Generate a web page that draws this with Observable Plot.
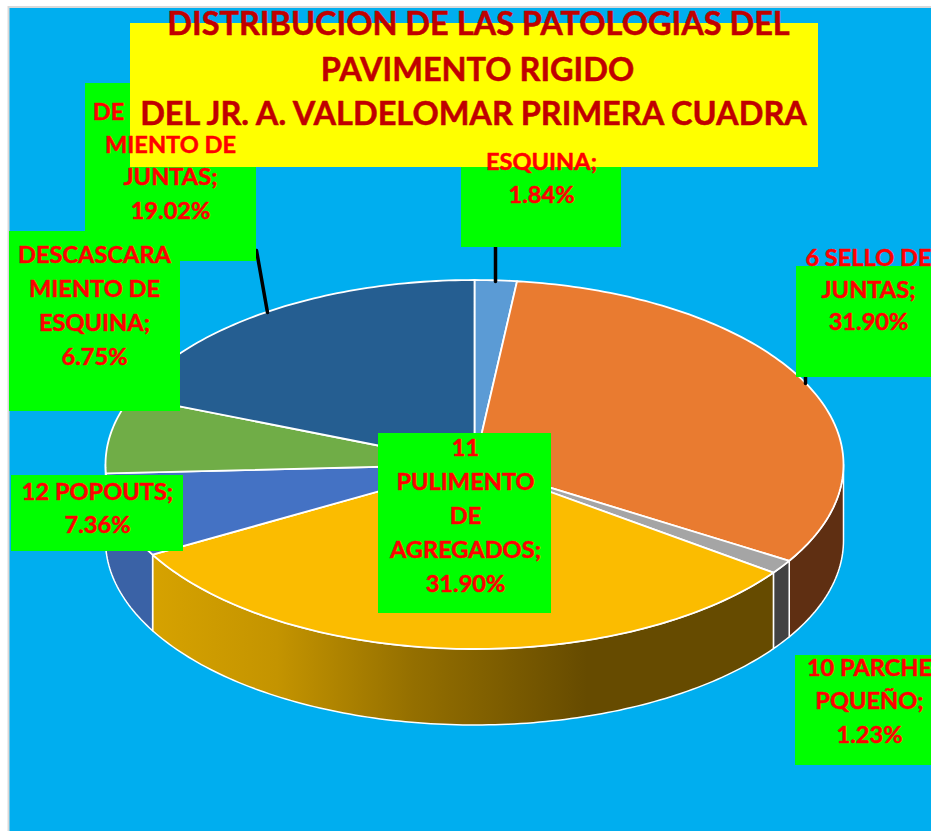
<!DOCTYPE html>
<html>
<head>
<meta charset="utf-8">
<script src="https://cdn.jsdelivr.net/npm/d3@7"></script>
<script src="https://cdn.jsdelivr.net/npm/@observablehq/plot@0.6"></script>
<style>
html,body{margin:0;padding:0;background:#fff;overflow:hidden}
svg{display:block}
</style>
</head>
<body>
<div id="chart"></div>
<script>
// ---- data (clockwise from twelve o'clock) ----
const sliceNames = ["ESQUINA", "6 SELLO DE JUNTAS", "10 PARCHE PEQUEÑO", "11 PULIMENTO DE AGREGADOS", "12 POPOUTS", "DESCASCARAMIENTO DE ESQUINA", "DESCASCARAMIENTO DE JUNTAS"];
const slicePercents = [1.84, 31.90, 1.23, 31.90, 7.36, 6.75, 19.02];
const titleLines = ["DISTRIBUCION DE LAS PATOLOGIAS DEL", "PAVIMENTO RIGIDO", "DEL JR. A. VALDELOMAR PRIMERA CUADRA"];
const labelWords = [
  ["ESQUINA;"],
  ["6 SELLO DE", "JUNTAS;"],
  ["10 PARCHE", "PQUEÑO;"],
  ["11", "PULIMENTO", "DE", "AGREGADOS;"],
  ["12 POPOUTS;"],
  ["DESCASCARA", "MIENTO DE", "ESQUINA;"],
  ["DE", "MIENTO DE", "JUNTAS;"]
];

// ---- styles ----
const topColors = ["#5B9BD5", "#E97B30", "#A5A5A5", "#FBBC00", "#4472C4", "#70AD47", "#255E91"];
const wallColors = ["#3E6D99", "#5F2F12", "#424242", "url(#yellowWall)", "#3A62A6", "#53803A", "#1A4568"];
const yellowWallStops = [[0, "#D6A200"], [0.2, "#C49400"], [0.42, "#946F00"], [0.7, "#664B00"], [1, "#664B00"]];

// ---- layout ----
const W = 931, H = 831;
const pie = {cx: 474, cy: 464, rx: 369, ry: 184.5, depth: 76};
const panel = {x1: 8.5, y1: 7, x2: W + 10, y2: H + 10};
const titleBox = {x1: 130, y1: 23, x2: 818, y2: 167};
const titleRows = [{x: 478, y: 24}, {x: 477, y: 70}, {x: 473, y: 114}];
const labelLayout = [
  {box: [461, 167, 621, 247], x: [541, 541], y: [162, 195]},
  {box: [796, 266, 940, 377], x: [868, 868, 868], y: [258, 290, 322]},
  {box: [795, 655, 940, 765], x: [869, 869, 869], y: [668, 701, 735]},
  {box: [378, 433, 551, 613], x: [465, 465, 465, 465, 465], y: [448, 482, 516, 550, 584]},
  {box: [11, 475, 183, 551], x: [97, 97], y: [492, 525]},
  {box: [9, 231, 180, 411], x: [94, 94, 94, 94], y: [255, 289, 323, 357]},
  {box: [85, 83, 256, 261], x: [108, 170, 170, 170], y: [112, 145, 177, 211]}
];
const leaders = [
  [{x: 495, y: 247}, {x: 495, y: 281}],
  [{x: 805, y: 377}, {x: 805, y: 383}],
  [{x: 256, y: 250}, {x: 267, y: 312}]
];

// ---- geometry from the values ----
const arcs = d3.pie().sort(null).value(d => d)(slicePercents);
const px = a => pie.cx + pie.rx * Math.sin(a);
const py = a => pie.cy - pie.ry * Math.cos(a);
const arcPoints = (a0, a1, dy = 0) => {
  const n = Math.max(2, Math.ceil((a1 - a0) / (Math.PI / 180)));
  return d3.range(n + 1).map(i => {
    const a = a0 + (a1 - a0) * i / n;
    return {x: px(a), y: py(a) + dy};
  });
};
const centre = {x: pie.cx, y: pie.cy};
const wedges = arcs.map(a => [centre, ...arcPoints(a.startAngle, a.endAngle), centre]);
const walls = arcs.map((a, i) => {
  const s = Math.max(a.startAngle, Math.PI / 2), e = Math.min(a.endAngle, 3 * Math.PI / 2);
  if (e <= s) return null;
  const top = arcPoints(s, e), bottom = arcPoints(s, e, pie.depth).reverse();
  return {i, pts: [...top, ...bottom, top[0]]};
}).filter(Boolean);

// ---- label rows, percentages read from the data ----
const labelRows = labelWords.flatMap((words, i) => {
  const lines = [...words, slicePercents[i].toFixed(2) + "%"];
  return lines.map((text, j) => ({text, x: labelLayout[i].x[j], y: labelLayout[i].y[j]}));
});
const boxes = labelLayout.map(l => ({x1: l.box[0], y1: l.box[1], x2: l.box[2], y2: l.box[3]}));
const titleData = titleLines.map((text, i) => ({text, ...titleRows[i]}));

const defs = () => {
  const d = d3.create("svg:defs");
  const g = d.append("linearGradient").attr("id", "yellowWall")
    .attr("gradientUnits", "userSpaceOnUse")
    .attr("x1", px(arcs[3].endAngle)).attr("x2", px(arcs[3].startAngle))
    .attr("y1", 0).attr("y2", 0);
  yellowWallStops.forEach(s => g.append("stop").attr("offset", s[0]).attr("stop-color", s[1]));
  return d.node();
};

const font = "Lato, Carlito, Calibri, sans-serif";

const chart = Plot.plot({
  width: W, height: H,
  margin: 0, marginTop: 0, marginRight: 0, marginBottom: 0, marginLeft: 0,
  x: {domain: [0, W], axis: null},
  y: {domain: [H, 0], axis: null},
  style: {background: "#fff", fontFamily: font},
  marks: [
    defs,
    Plot.rect([panel], {x1: "x1", y1: "y1", x2: "x2", y2: "y2", fill: "#00AEEF", stroke: "#D9D9D9", strokeWidth: 2}),
    ...walls.map(w => Plot.line(w.pts, {x: "x", y: "y", fill: wallColors[w.i], stroke: "#fff", strokeWidth: 1.5})),
    ...wedges.map((pts, i) => Plot.line(pts, {x: "x", y: "y", fill: topColors[i], stroke: "#fff", strokeWidth: 1.8, strokeLinejoin: "round"})),
    ...leaders.map(l => Plot.line(l, {x: "x", y: "y", stroke: "#000", strokeWidth: 3.5})),
    Plot.rect(boxes, {x1: "x1", y1: "y1", x2: "x2", y2: "y2", fill: "#00FF00"}),
    Plot.rect([titleBox], {x1: "x1", y1: "y1", x2: "x2", y2: "y2", fill: "#FFFF00"}),
    Plot.text(titleData, {x: "x", y: "y", text: "text", fill: "#C00000", stroke: "#C00000", strokeWidth: 0.5, fontSize: 32.5, fontWeight: 700, textAnchor: "middle", lineAnchor: "middle"}),
    Plot.text(labelRows, {x: "x", y: "y", text: "text", fill: "#FF0000", stroke: "#FF0000", strokeWidth: 0.5, fontSize: 23.6, fontWeight: 700, textAnchor: "middle", lineAnchor: "middle"})
  ]
});
document.getElementById("chart").append(chart);
</script>
</body>
</html>
